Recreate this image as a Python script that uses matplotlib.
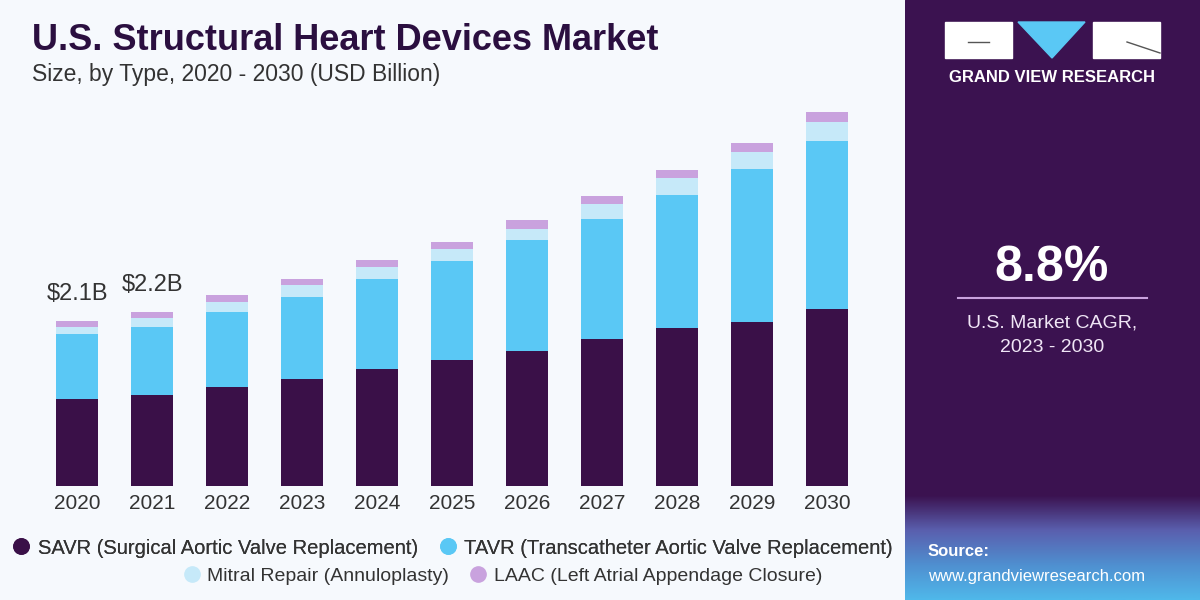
import matplotlib
matplotlib.use("Agg")
import matplotlib.pyplot as plt
import matplotlib.patches as mpatches
from matplotlib.lines import Line2D
from matplotlib.colors import LinearSegmentedColormap
import numpy as np

years = ['2020', '2021', '2022', '2023', '2024', '2025', '2026', '2027', '2028', '2029', '2030']
savr = [1.10, 1.16, 1.26, 1.36, 1.49, 1.60, 1.71, 1.87, 2.01, 2.08, 2.25]
tavr = [0.83, 0.86, 0.95, 1.04, 1.14, 1.26, 1.41, 1.52, 1.68, 1.94, 2.13]
mitral = [0.09, 0.11, 0.13, 0.15, 0.15, 0.15, 0.15, 0.19, 0.22, 0.22, 0.24]
laac = [0.08, 0.08, 0.08, 0.08, 0.09, 0.09, 0.11, 0.10, 0.10, 0.11, 0.13]
series_names = ['SAVR (Surgical Aortic Valve Replacement)',
                'TAVR (Transcatheter Aortic Valve Replacement)',
                'Mitral Repair (Annuloplasty)',
                'LAAC (Left Atrial Appendage Closure)']
total_labels = {0: '$2.1B', 1: '$2.2B'}
cagr = '8.8%'

c_savr = '#3a1048'
c_tavr = '#5ac8f5'
c_mitral = '#c6e9f9'
c_laac = '#c9a2de'
purple = '#3b1250'
txt = '#333333'

plt.rcParams['font.family'] = ['Liberation Sans', 'DejaVu Sans']

fig = plt.figure(figsize=(12, 6), dpi=100)
fig.patch.set_facecolor('#f6f9fd')

# right panel
rp = fig.add_axes([905/1200, 0, 295/1200, 1])
rp.set_xlim(0, 295)
rp.set_ylim(600, 0)
rp.axis('off')
rp.add_patch(mpatches.Rectangle((0, 0), 295, 600, color=purple, zorder=0))
grad = np.linspace(0, 1, 100).reshape(-1, 1)
cmap = LinearSegmentedColormap.from_list('g', [purple, '#5a5fae', '#4f8fd0', '#4fb8ea'])
rp.imshow(grad, cmap=cmap, extent=(0, 295, 600, 495), aspect='auto', zorder=1)

# logo
rp.add_patch(mpatches.Rectangle((40, 22), 67, 36, color='white', zorder=2))
rp.add_patch(mpatches.Polygon([[113, 22], [180, 22], [147, 58]], color='#5ac8f5', zorder=2))
rp.add_patch(mpatches.Rectangle((188, 22), 67, 36, color='white', zorder=2))
rp.plot([63, 84], [42, 42], color='#555555', lw=1, zorder=3)
rp.plot([222, 255], [42, 53], color='#555555', lw=1, zorder=3)
rp.text(147, 78, 'GRAND VIEW RESEARCH', color='white', fontsize=12, fontweight='bold',
        ha='center', va='center', zorder=3)

rp.text(147, 268, cagr, color='white', fontsize=36, fontweight='bold', ha='center', va='center', zorder=3)
rp.plot([53, 242], [298, 298], color='#c9a2de', lw=1.5, zorder=3)
rp.text(147, 323, 'U.S. Market CAGR,', color='#f0e6f6', fontsize=14, ha='center', va='center', zorder=3)
rp.text(147, 347, '2023 - 2030', color='#f0e6f6', fontsize=14, ha='center', va='center', zorder=3)

rp.text(23, 552, 'Source:', color='white', fontsize=12, fontweight='bold', ha='left', va='center', zorder=3)
rp.text(23, 576, 'www.grandviewresearch.com', color='white', fontsize=12, ha='left', va='center', zorder=3)

# title
fig.text(32/1200, 1 - 40/600, 'U.S. Structural Heart Devices Market', fontsize=26, fontweight='bold',
         color='#2b0f40', ha='left', va='center')
fig.text(32/1200, 1 - 75/600, 'Size, by Type, 2020 - 2030 (USD Billion)', fontsize=16.5,
         color=txt, ha='left', va='center')

# bars
ax = fig.add_axes([0, 114/600, 905/1200, 396/600])
ax.set_facecolor('none')
x = np.arange(len(years))
w = 0.57
b1 = np.array(savr)
b2 = b1 + np.array(tavr)
b3 = b2 + np.array(mitral)
ax.bar(x, savr, w, color=c_savr)
ax.bar(x, tavr, w, bottom=b1, color=c_tavr)
ax.bar(x, mitral, w, bottom=b2, color=c_mitral)
ax.bar(x, laac, w, bottom=b3, color=c_laac)
totals = b3 + np.array(laac)
for i, lab in total_labels.items():
    ax.text(x[i], totals[i] + 0.2, lab, ha='center', va='bottom', fontsize=17, color=txt)
ax.set_xlim(-77/75, (905-77)/75)
ax.set_ylim(0, 396*0.0127)
ax.set_xticks(x)
ax.set_xticklabels(years, fontsize=15, color=txt)
ax.tick_params(axis='x', length=0, pad=6)
ax.set_yticks([])
for s in ax.spines.values():
    s.set_visible(False)

# legend
def handle(c):
    return Line2D([], [], marker='o', ls='none', markersize=11, markerfacecolor=c, markeredgecolor=c)

leg1 = fig.legend([handle(c_savr), handle(c_tavr)], series_names[:2], loc='center',
                  bbox_to_anchor=(452/1200, 1 - 548/600), ncol=2, frameon=False, fontsize=14.5,
                  handletextpad=0.3, columnspacing=1.0, handlelength=1.0, labelcolor=txt)
fig.add_artist(leg1)
fig.legend([handle(c_mitral), handle(c_laac)], series_names[2:], loc='center',
           bbox_to_anchor=(502/1200, 1 - 576/600), ncol=2, frameon=False, fontsize=14,
           handletextpad=0.3, columnspacing=1.0, handlelength=1.0, labelcolor=txt)

fig.savefig('out.png', dpi=100, facecolor=fig.get_facecolor())
